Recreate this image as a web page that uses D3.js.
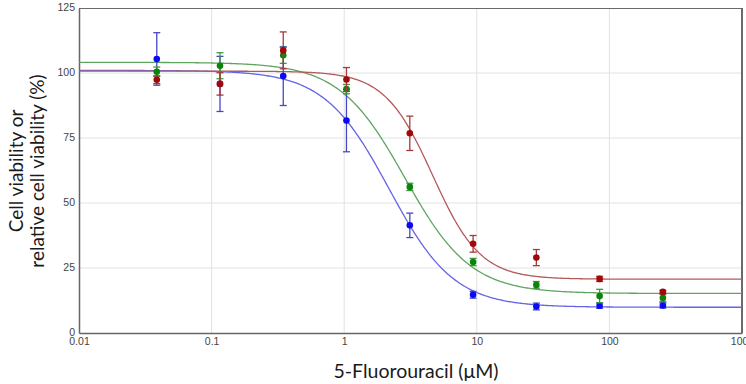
<!DOCTYPE html>
<html>
<head>
<meta charset="utf-8">
<script src="https://cdn.jsdelivr.net/npm/d3@7"></script>
<style>
  body { margin: 0; background: #fff; }
  .tick text { font-family: "Liberation Sans", sans-serif; font-size: 10.5px; fill: #444; }
</style>
</head>
<body>
<script>
// doses (uM)
const doses = [0.0386, 0.1157, 0.347, 1.04, 3.125, 9.375, 28.125, 84.375, 253.125]

const seriesNames = ['blue', 'green', 'red']
const means = {
  blue:  [105.4, 95.8, 98.8, 81.7, 41.4, 14.7, 10.2, 10.5, 10.6],
  green: [100.5, 102.8, 106.8, 93.8, 56.2, 27.3, 18.5, 14.2, 13.5],
  red:   [97.4, 95.8, 108.7, 97.5, 76.8, 34.3, 29.0, 20.8, 15.8]
}
const errs = {
  blue:  [10.1, 10.6, 11.3, 12.0, 4.7, 1.3, 1.3, 1.0, 1.0],
  green: [1.8, 5.0, 3.1, 1.8, 1.4, 1.4, 1.3, 2.6, 1.4],
  red:   [1.5, 4.3, 7.1, 4.6, 6.6, 3.2, 3.1, 1.0, 0.6]
}
// fitted 4PL curve parameters
const fitTop    = {blue: 101.0, green: 104.1, red: 100.7}
const fitBottom = {blue: 9.9,   green: 15.2,  red: 20.7}
const fitIC50   = {blue: 2.18,  green: 2.87,  red: 4.64}
const fitHill   = {blue: 1.78,  green: 1.75,  red: 2.4}

const xTicks = [0.01, 0.1, 1, 10, 100, 1000]
const yTicks = [0, 25, 50, 75, 100, 125]

const dotColor  = {blue: '#0a0af5', green: '#0b840b', red: '#a30808'}
const lineColor = {blue: '#6464e6', green: '#5fa55f', red: '#b45a5a'}
const barColor  = {blue: '#4646c8', green: '#3c9a3c', red: '#a43a3a'}

const margin = ({top: 8, right: 4, bottom: 51, left: 79})
const width = 746 - margin.left - margin.right,
  height = 384 - margin.top - margin.bottom

const root = d3.select('body').append('svg')
  .attr('width', 746)
  .attr('height', 384)

const svg = root.append('g')
  .attr('transform', `translate(${margin.left},${margin.top})`)

const xScale = d3.scaleLog()
  .domain([0.01, 1000])
  .range([0, width])

const yScale = d3.scaleLinear()
  .domain([0, 125])
  .range([height, 0])

// grid
svg.append('g')
  .selectAll('line')
  .data(xTicks.slice(1, -1))
  .join('line')
  .attr('x1', d => xScale(d)).attr('x2', d => xScale(d))
  .attr('y1', 0).attr('y2', height)
  .attr('stroke', '#e2e2e2')
svg.append('g')
  .selectAll('line')
  .data(yTicks.slice(1, -1))
  .join('line')
  .attr('x1', 0).attr('x2', width)
  .attr('y1', d => yScale(d)).attr('y2', d => yScale(d))
  .attr('stroke', '#e2e2e2')

// frame
svg.append('line').attr('x1', 0).attr('x2', width).attr('y1', 0.5).attr('y2', 0.5)
  .attr('stroke', '#6a6a6a')
svg.append('line').attr('x1', width).attr('x2', width).attr('y1', 0).attr('y2', height)
  .attr('stroke', '#6a6a6a').attr('stroke-width', 2)

const xAxis = d3.axisBottom(xScale)
  .tickValues(xTicks)
  .tickFormat(d3.format('~g'))
  .tickSize(0).tickPadding(5)
const yAxis = d3.axisLeft(yScale)
  .tickValues(yTicks)
  .tickSize(0).tickPadding(4)

svg.append('g')
  .attr('transform', `translate(0,${height})`)
  .call(xAxis)
  .call(g => g.select('.domain').attr('stroke', '#666').attr('stroke-width', 1.5))
svg.append('g')
  .call(yAxis)
  .call(g => g.select('.domain').attr('stroke', '#666').attr('stroke-width', 1.5))
  .call(g => g.selectAll('.tick text').attr('dy', '0.25em'))

// fitted curves
const curveX = d3.range(-2, 3.001, 0.01).map(e => Math.pow(10, e))
const line = d3.line()
  .x(d => xScale(d[0]))
  .y(d => yScale(d[1]))

seriesNames.forEach(s => {
  const pts = curveX.map(x => [x,
    fitBottom[s] + (fitTop[s] - fitBottom[s]) / (1 + Math.pow(x / fitIC50[s], fitHill[s]))])
  svg.append('path')
    .datum(pts)
    .attr('fill', 'none')
    .attr('stroke', lineColor[s])
    .attr('stroke-width', 1.3)
    .attr('d', line)
})

// error bars and points
seriesNames.forEach(s => {
  const data = doses.map((d, i) => ({x: d, y: means[s][i], e: errs[s][i]}))
  const g = svg.append('g')
    .attr('stroke', barColor[s])
    .attr('stroke-width', 1.3)
  g.selectAll('.v')
    .data(data)
    .join('line')
    .attr('x1', d => xScale(d.x)).attr('x2', d => xScale(d.x))
    .attr('y1', d => yScale(d.y - d.e)).attr('y2', d => yScale(d.y + d.e))
  g.selectAll('.top')
    .data(data)
    .join('line')
    .attr('x1', d => xScale(d.x) - 3.5).attr('x2', d => xScale(d.x) + 3.5)
    .attr('y1', d => yScale(d.y + d.e)).attr('y2', d => yScale(d.y + d.e))
  g.selectAll('.bot')
    .data(data)
    .join('line')
    .attr('x1', d => xScale(d.x) - 3.5).attr('x2', d => xScale(d.x) + 3.5)
    .attr('y1', d => yScale(d.y - d.e)).attr('y2', d => yScale(d.y - d.e))
  svg.append('g')
    .attr('fill', dotColor[s])
    .selectAll('circle')
    .data(data)
    .join('circle')
    .attr('cx', d => xScale(d.x))
    .attr('cy', d => yScale(d.y))
    .attr('r', 3.3)
})

// axis titles
root.append('text')
  .attr('x', 416)
  .attr('y', 378)
  .attr('text-anchor', 'middle')
  .attr('font-family', 'Lato, sans-serif')
  .attr('font-size', 19.5)
  .attr('fill', '#1a1a1a')
  .text('5-Fluorouracil (μM)')

const yl = root.append('text')
  .attr('transform', 'translate(0,171) rotate(-90)')
  .attr('text-anchor', 'middle')
  .attr('font-family', 'Lato, sans-serif')
  .attr('font-size', 19)
  .attr('fill', '#1a1a1a')
yl.append('tspan').attr('x', 0).attr('y', 23).text('Cell viability or')
yl.append('tspan').attr('x', 0).attr('y', 44).text('relative cell viability (%)')
</script>
</body>
</html>
